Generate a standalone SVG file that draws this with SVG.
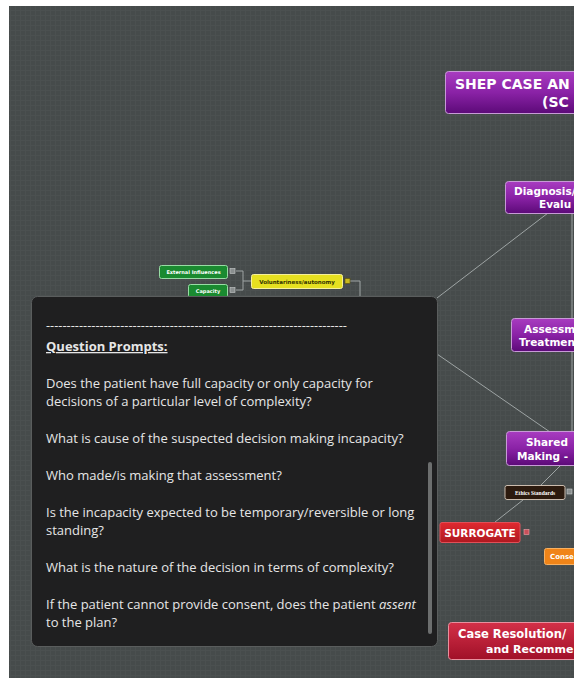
<svg xmlns="http://www.w3.org/2000/svg" width="574" height="678" viewBox="0 0 574 678">
<defs>
<pattern id="grid" width="5" height="5" patternUnits="userSpaceOnUse">
<rect width="5" height="5" fill="#464b4b"/>
<path d="M0 0.5H5M0.5 0V5" stroke="#4b5050" stroke-width="1"/>
</pattern>
<linearGradient id="purple" x1="0" y1="0" x2="0" y2="1">
<stop offset="0" stop-color="#a83cc0"/>
<stop offset="0.5" stop-color="#8a22a6"/>
<stop offset="1" stop-color="#5c0a78"/>
</linearGradient>
<linearGradient id="crimson" x1="0" y1="0" x2="0" y2="1">
<stop offset="0" stop-color="#d43048"/>
<stop offset="1" stop-color="#a01028"/>
</linearGradient>
<linearGradient id="red" x1="0" y1="0" x2="0" y2="1">
<stop offset="0" stop-color="#e02a30"/>
<stop offset="1" stop-color="#b01820"/>
</linearGradient>
<style>
.pnode{fill:url(#purple);stroke:#c79ad6;stroke-width:1}
.nt{font-family:"DejaVu Sans",Verdana,sans-serif;font-weight:bold;fill:#ffffff}
.conn{fill:none;stroke:#9ea4a4;stroke-width:1}
.pt{font-family:"Open Sans","Noto Sans",sans-serif;font-size:13px;fill:#e6e6e6}
.icon{fill:#8a8f8f;stroke:#c8cccc;stroke-width:0.6}
</style>
</defs>
<rect width="574" height="678" fill="#ffffff"/>
<rect x="9" y="6" width="565" height="672" fill="url(#grid)"/>

<g id="connectors">
<path class="conn" d="M236 271H243V290H236M243 281H251"/>
<path class="conn" d="M350 281H360V300"/>
<path class="conn" d="M437 298L548 213"/>
<path class="conn" d="M437 354L550 432"/>
<path class="conn" d="M572 213V320M572 351V432"/>
<path class="conn" d="M495 522L523 500"/>
<path class="conn" d="M540 486L560 466"/>
</g>

<g id="title">
<rect class="pnode" x="445.5" y="71.5" width="140" height="42" rx="3"/>
<text class="nt" x="455" y="89" font-size="14">SHEP CASE AN</text>
<text class="nt" x="542" y="107" font-size="14">(SC</text>
</g>
<g id="diagnosis">
<rect class="pnode" x="505.5" y="181.5" width="80" height="32" rx="3"/>
<text class="nt" x="514" y="195" font-size="10.5">Diagnosis/</text>
<text class="nt" x="539" y="208" font-size="10.5">Evalu</text>
</g>
<g id="assessment">
<rect class="pnode" x="511.5" y="318.5" width="80" height="33" rx="3"/>
<text class="nt" x="524" y="333" font-size="10.5">Assessm</text>
<text class="nt" x="519" y="346" font-size="10.5">Treatmen</text>
</g>
<g id="shared">
<rect class="pnode" x="506.5" y="431.5" width="80" height="34" rx="3"/>
<text class="nt" x="526" y="446" font-size="10.5">Shared</text>
<text class="nt" x="517" y="460" font-size="10.5">Making -</text>
</g>
<g id="ethics">
<rect x="505" y="485.5" width="60" height="14" rx="2" fill="#2c1a0e" stroke="#cbbcae" stroke-width="1"/>
<text x="535" y="495" font-size="5.5" text-anchor="middle" font-family="'Liberation Serif',serif" font-weight="bold" fill="#ffffff">Ethics Standards</text>
<rect class="icon" x="567" y="489" width="5" height="5"/>
</g>
<g id="surrogate">
<rect x="440" y="522.5" width="80" height="20" rx="2" fill="url(#red)" stroke="#e05058" stroke-width="1"/>
<text class="nt" x="480" y="537" font-size="10.5" text-anchor="middle">SURROGATE</text>
<rect x="524" y="529.5" width="5" height="5" fill="#c8505a" stroke="#f0a0a8" stroke-width="0.6"/>
</g>
<g id="consent">
<rect x="544.5" y="548.5" width="40" height="16" rx="2" fill="#f08418" stroke="#f8b060" stroke-width="1"/>
<text class="nt" x="550" y="559" font-size="7">Conse</text>
</g>
<g id="resolution">
<rect x="448.5" y="622.5" width="140" height="37" rx="3" fill="url(#crimson)" stroke="#e8909e" stroke-width="1"/>
<text class="nt" x="458" y="638" font-size="11.5">Case Resolution/</text>
<text class="nt" x="486" y="653" font-size="11">and Recomme</text>
</g>
<g id="external">
<rect x="159.5" y="265.5" width="68" height="13" rx="2" fill="#1a8a30" stroke="#98dca4" stroke-width="1"/>
<text class="nt" x="193.5" y="274" font-size="5" text-anchor="middle">External Influences</text>
<rect class="icon" x="230" y="268.5" width="5" height="5" fill="#5aa06a"/>
</g>
<g id="capacity">
<rect x="188.5" y="284.5" width="39" height="13" rx="2" fill="#1a8a30" stroke="#98dca4" stroke-width="1"/>
<text class="nt" x="208" y="293" font-size="5" text-anchor="middle">Capacity</text>
<rect class="icon" x="230" y="287.5" width="5" height="5" fill="#5aa06a"/>
</g>
<g id="voluntariness">
<rect x="251.5" y="274.5" width="91" height="14" rx="2" fill="#e6e020" stroke="#f6f09a" stroke-width="1"/>
<text x="297" y="284" font-size="5.5" text-anchor="middle" font-family="'DejaVu Sans',sans-serif" font-weight="bold" fill="#333300">Voluntariness/autonomy</text>
<rect x="345" y="278.5" width="5" height="5" fill="#c8b820" stroke="#5a5000" stroke-width="0.6"/>
</g>

<g id="popup">
<rect x="31.5" y="296.5" width="406" height="350" rx="6" fill="#1f1f20" stroke="#5a5d5d" stroke-width="1"/>
<text class="pt" x="46" y="330" textLength="301" lengthAdjust="spacingAndGlyphs">-------------------------------------------------------------------------</text>
<text class="pt" x="46" y="351" font-weight="bold" text-decoration="underline">Question Prompts:</text>
<text class="pt" x="46" y="388">Does the patient have full capacity or only capacity for</text>
<text class="pt" x="46" y="406">decisions of a particular level of complexity?</text>
<text class="pt" x="46" y="443">What is cause of the suspected decision making incapacity?</text>
<text class="pt" x="46" y="480">Who made/is making that assessment?</text>
<text class="pt" x="46" y="517">Is the incapacity expected to be temporary/reversible or long</text>
<text class="pt" x="46" y="535">standing?</text>
<text class="pt" x="46" y="572">What is the nature of the decision in terms of complexity?</text>
<text class="pt" x="46" y="609">If the patient cannot provide consent, does the patient <tspan font-style="italic">assent</tspan></text>
<text class="pt" x="46" y="627">to the plan?</text>
<rect x="428" y="462" width="4" height="172" rx="2" fill="#6c6e6e"/>
</g>
</svg>
